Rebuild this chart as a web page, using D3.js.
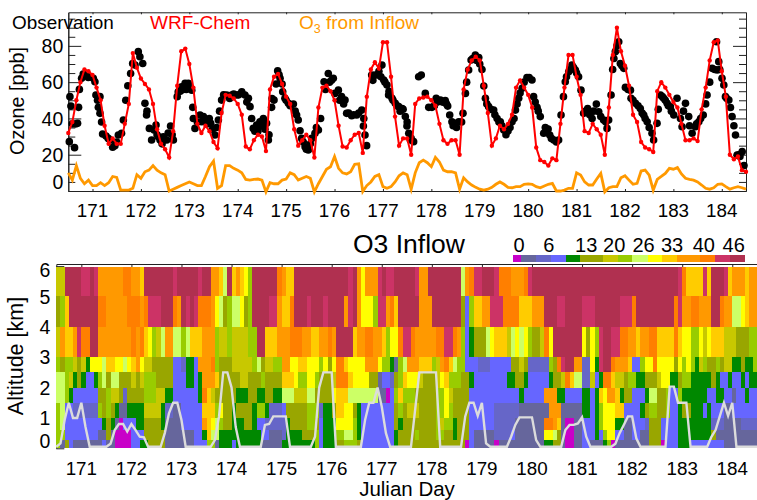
<!DOCTYPE html>
<html>
<head>
<meta charset="utf-8">
<script src="https://cdn.jsdelivr.net/npm/d3@7"></script>
<style>
body { margin: 0; background: #fff; }
text { font-family: "Liberation Sans", Arial, sans-serif; fill: #000; }
</style>
</head>
<body>
<div id="my_dataviz"></div>
<script>
// --- axis labels ---
const dayTicks = [171, 172, 173, 174, 175, 176, 177, 178, 179, 180, 181, 182, 183, 184];
const ozoneTicks = [0, 20, 40, 60, 80];
const ozoneMinor = [5, 10, 15, 25, 30, 35, 45, 50, 55, 65, 70, 75, 85, 90, 95];
const altTicks = [0, 1, 2, 3, 4, 5, 6];

// --- 2-hourly series, first sample at day 170.5 ---
const wrfChem = [32, 38, 50, 60, 67, 66, 64, 57, 50, 36, 26, 29,
	26, 26, 37, 48, 76, 68, 62, 59, 56, 48, 34, 26,
	23, 18.5, 33, 58, 77, 78.5, 70, 57, 37, 32, 36, 33,
	27, 23.5, 43, 53, 52.5, 51, 48, 42, 24.5, 23, 28, 31,
	30, 22, 56, 63, 64.5, 59, 52, 48, 34, 25, 28, 31,
	28, 18.5, 46, 57, 58, 55, 50, 36, 24.5, 24, 28, 31,
	32, 21, 52, 67, 71, 67.5, 82, 82, 63, 41, 25, 29,
	29, 20, 48, 51, 51.5, 52, 50, 47, 37, 28, 26, 28,
	28, 20, 56, 67, 72, 74, 72, 58, 43, 25, 29, 36,
	34, 37, 42, 57, 61, 57, 53, 46, 24, 17, 16, 14,
	18, 17, 37, 57, 75, 75, 63, 53, 33, 32, 37, 34,
	31, 20, 46, 75, 90, 77, 69, 58, 42, 38, 27, 24,
	23, 21.5, 55, 60, 57, 53, 49, 46, 37, 28, 28, 29,
	27.5, 45, 57, 72, 82, 83, 66, 52, 20, 17.5, 19, 11.5, 10.6];

const inflowO3 = [10, 6, 14, 7, 4, 6, 3, 3, 4.6, 3, 4.6, 8,
	7.5, .5, .5, .5, 1.5, 9, 7, 10.6, 11.5, 14, 11.5, 10,
	9, 0, 1, 2, 3, 4, 5, 4, 3, 3, 8, 13.4,
	16.5, 1.5, 3, 14, 14, 12.5, 11.5, 10, 6.4, 6, 6.4, 6.6,
	6, -.5, 4.6, 4, 4, 6, 6.6, 10, 9, 6, 7, 8,
	7, -.5, 4, 8, 12, 13.4, 19, 12.5, 10, 9.4, 10.6, 14.7,
	15, -.3, 3, 5, 8, 9, 2.4, 1.5, 2.4, 5, 8.4, 10,
	9, 1, 10, 15.6, 17, 15.6, 13.4, 18.5, 16, 11.5, 10.6, 10.6,
	10, 1, 7.3, 5, 3.3, 2, 1, .5, 1, 2, 3.7, 5,
	3.7, 2, 1.8, 2.4, 2.4, 3.7, 3.9, 3.7, 2.4, 1.8, 2.8, 3.7,
	4.2, 0, 0, .5, 1.5, 1.5, 10, 8.8, 5, 3.3, 3.3, 6.6,
	9.7, -.5, 1.8, 2.4, 2.4, 7.3, 8.4, 6, 3.7, 4.2, 11, 11.5,
	8.8, .5, 6.4, 8, 9.7, 12.5, 12, 12.9, 9.4, 7, 6.4, 6,
	5, 3.3, 1.5, 1, 1.8, 3.7, 3.9, 2.4, 1, 1.8, 2.4, 1.8, 1];

const blHeight = [.05, .16, .93, 1.5, 1, 1, 1.5, .7, .05, .05, .05, .05,
	.05, .15, .6, .8, .8, .55, .8, .6, .38, .36, .05, .05,
	.05, .05, .5, 1.15, 1.5, 1.5, .93, .05, .05, .05, .05, .05,
	.05, .05, .27, 1.05, 2.5, 2.5, 2, .7, .05, .05, .05, .05,
	.05, .05, .77, .8, 1.05, 1.05, 1.05, 1.05, .05, .05, .05, .05,
	.05, .05, .38, 2, 2.5, 2.5, 2.5, .05, .05, .05, .05, .05,
	.05, .05, .93, 1.5, 1.5, 2, 1.37, .5, .05, .05, .05, .05,
	.05, .05, 1.27, 2.5, 2.5, 2.5, 2.5, 2.5, .05, .05, .05, .05,
	.05, .05, 1.05, 1.5, 1.5, 1.07, 1.5, .16, .05, .05, .05, .05,
	.05, .38, .77, 1.02, 1.02, 1.02, 1.02, .27, .05, .05, .05, .05,
	.05, .05, .6, .77, .77, .82, 1.02, .38, .05, .05, .05, .05,
	.05, .05, .15, .5, .77, 1.05, 1.05, .33, .05, .05, .05, .05,
	.05, .05, .05, 2.03, 2.03, 1.5, 1.5, 1.5, .05, .05, .05, .05,
	.05, .38, .6, 1.05, 1.5, 1.07, 1.5, .05, .05, .05, .05, .05, .05];

// --- observations: hours since day 170.5, ppb ---
const obsHour = [.8, 1.3, .5, 3.1, 3.5, 4.6, 5.1, 5.5, 6.6, 7.4, 8.8, 9.9, 11.1, 12.4, 13.2, 13.7, 15.7, 14.9, 15.7, 17,
	18.7, 20.7, 22, 23.1, 24.8, 26.4, 27.3, 30.9, 31.9, 33.1, 34.7, 35.5, 36.9, 38, 38.8, 40.2, 41.3, 42.5, 43.5, 44.6,
	45.5, 47.1, 48.8, 50.7, 52.1, 54.5, 56.2, 57.9, 59.5, 61.2, 61.7, 62.8, 65.3, 66.1, 67.8, 69.9, 70.6, 72.7, 74.4, 76,
	78.5, 81, 83.5, 86, 87.6, 89.3, 90.1, 90.9, 91.7, 93.4, 95, 96.7, 98.3, 99.2, 100.8, 102, 103.8, 105, 106.3, 107.4,
	109.1, 111.6, 113.2, 114, 114.9, 115.7, 117.4, 119, 120.7, 122.3, 124, 125.1, 126.8, 128.9, 131.4, 132.2, 133.9, 135.5, 137.2, 138,
	140.5, 143, 145.5, 146.3, 147.1, 147.9, 150.4, 152.1, 153.7, 155.5, 156.4, 158, 158.8, 160.5, 162.1, 163.8, 165.5, 167.1, 167.9, 168.8,
	169.6, 171.2, 173.7, 175, 177, 178.7, 180.3, 182.4, 184.5, 186.9, 188.1, 189.1, 190.2, 191.9, 193.6, 195.7, 196.9, 198.5, 199.7, 201.8,
	203.5, 205.1, 206, 206.8, 208.4, 210.9, 212.6, 214.2, 215.9, 218, 220, 221.7, 223.3, 225, 227.4, 229.9, 230.7, 232.4, 234, 235.7,
	237.9, 238.7, 240.7, 243.1, 244.3, 246.4, 248.1, 249.7, 251.4, 253, 254.2, 255.5, 257.5, 259.7, 261.8, 263, 265.4, 267.9, 267.1, 269.1,
	269.9, 271.2, 272.9, 273.7, 275.4, 276.2, 278.7, 279, 281.2, 283.6, 285.3, 287, 289.4, 290.2, 291.9, 293.6, 295.2, 296.9, 298.5, 300.2,
	301.8, 303.5, 304.3, 306, 307.6, 309.3, 310.9, 312.6, 314.8, 316.7, 319.2, 321.7, 322.5, 321.4, 324.1, 325, 325.8, 327.5, 329.1, 330.8,
	331.6, 334.1, 335,
	2, 14.5, 16.5, 19.8, 24, 28.5, 29.5, 39, 44, 46.5, 49.5, 51.5, 54, 55.5, 57, 58.5, 60, 62, 64, 67, 69, 71.5, 73.5, 75, 77, 80, 82, 84.5, 88.5,
	92.5, 94, 96, 97.5, 99.5, 101, 103, 104.5, 106, 108, 110, 112.5, 116.5, 118, 120, 123, 127.5, 129.5, 130.5, 134.5, 136.5, 139, 141.5, 144, 146.5,
	151, 154, 155, 157, 159, 161, 163, 164.5, 166, 168, 170, 181.5, 183, 185.5, 187.5, 190.8, 192.5, 195, 197.5, 200.5, 202.5, 204, 207.5, 209.5, 211.5,
	213.5, 215, 217, 219, 221, 222.5, 224, 226, 228.5, 231.5, 233, 236.5, 239.5, 242, 245.5, 247, 249, 250.5, 252, 256.5, 258.5, 260.5, 264, 266.5,
	270.5, 272, 274.5, 277.5, 280, 282.5, 284.5, 286, 288, 292.5, 294.5, 296, 297.5, 299, 305, 308, 311.5, 313.5, 316, 318, 320.5, 323, 326.5, 328.3, 330, 332.5, 333];
const obsPpb = [52, 46.8, 27.2, 23.9, 36.9, 37.3, 46.1, 56, 62.1, 64.5, 63.9, 62.6, 63, 62.1, 60.2, 52.9, 52, 46.1, 42.8, 31.4,
	30.3, 28.1, 24.1, 25, 30.9, 31.8, 39.1, 64.8, 70.3, 69.4, 76.8, 74, 70.3, 48.3, 41.9, 34.5, 28.1, 33.6, 36.4, 29.9,
	28.1, 29.9, 28.1, 35.8, 28.1, 54.7, 57.5, 59.3, 59.3, 55.6, 46.1, 34.5, 41.9, 38.2, 39.1, 40, 37.3, 30.9, 39.1, 50.1,
	52.9, 52.9, 52.9, 54.7, 52.9, 51.1, 46.5, 40, 34.5, 36.4, 38.2, 40, 37.3, 28.1, 46.1, 50.1, 66.3, 62.1, 54.7, 51.1,
	48.3, 47.9, 41.9, 39.1, 33.2, 29, 24.4, 22.6, 29, 31.8, 33.6, 40, 60.2, 64.8, 62.1, 53.8, 55.6, 52, 50.1, 42.8,
	41.5, 41.9, 44.6, 35.8, 30.9, 25, 63.9, 63.9, 63.9, 69.4, 61.2, 58.4, 52.9, 51.1, 48.3, 46.5, 45.5, 41, 35.8, 31.8,
	28.1, 27.2, 63, 63.9, 53.8, 46.1, 46.1, 51.1, 50.1, 49.8, 46.8, 41.9, 38.2, 37.3, 38.2, 42.8, 53.8, 66.7, 72.2, 74.9,
	73.6, 67, 57.9, 51.1, 46.5, 44.6, 40, 38.2, 33.6, 33.1, 38.2, 44.6, 51.1, 56.6, 62.6, 61.2, 52, 46.1, 41, 31.8,
	34.2, 30.9, 28.1, 28.1, 41.9, 60.2, 65.7, 69.4, 66.7, 63, 55.6, 42.8, 45.5, 40, 47.9, 43.7, 39.1, 39.1, 34.5, 52.9,
	67, 76.8, 82.3, 70.3, 67.6, 57.1, 55.6, 51.1, 48.3, 45.5, 41.9, 38.2, 31.8, 28.1, 37.3, 52.9, 51.1, 48.3, 46.5, 41.9,
	51.1, 40, 35.4, 48.3, 41, 31.8, 35.4, 38.2, 41.9, 52.9, 67.6, 66.7, 71.3, 82.3, 62.1, 58.4, 52, 50.1, 41, 30.9,
	19.8, 21.7, 14,
	37, 50, 38, 29, 27, 50, 58, 44, 31, 26, 32, 31, 52, 55, 56, 56, 56.5, 40, 38, 41, 37, 34, 35, 44, 53, 51, 53.5, 53, 49,
	33, 33, 36, 34, 31, 51, 59, 64, 59, 50, 47, 44, 27, 23, 26, 35, 56, 60, 61, 50, 48, 43, 42, 43, 40,
	61, 66, 63, 60, 55, 50, 47, 44, 45, 38, 29, 47, 49, 49, 48, 36, 35, 38, 60, 73, 72, 70, 48, 45, 42,
	38, 36, 31, 35, 40, 48, 54, 60, 62.5, 49, 44, 35, 29, 27, 52, 63, 67, 68, 65, 44, 42, 44, 41, 38,
	73, 80, 69, 56, 50, 47, 43, 40, 35, 45, 52, 50, 47, 44, 44, 36, 37, 40, 48, 60, 67, 67, 51, 46, 36, 20, 19];

// --- colour bar ---
const binEdges = [-1.3, .43, 3.64, 6.86, 10.07, 13.07, 18, 21.2, 24.2, 27.6, 30.6, 33.9, 38.8, 42, 45.2, 48.4];
const binColors = ['#c800c8', '#66669c', '#6666c8', '#6666ff', '#008800', '#99a600', '#c8c800', '#99cc00',
	'#ccff66', '#ffff00', '#ffcc00', '#ff9900', '#ff7f00', '#cc3366', '#b03050'];
const barLabels = ['0', '6', '13', '20', '26', '33', '40', '46'];
const barLabelAt = [0, 6.4, 14.4, 20.4, 26.7, 32.8, 39.6, 46];

// ppb of each colour class, used in the layers below
const M = 0, S = 2, B = 5, P = 8, G = 12, O = 15, Y = 20, L = 23, C = 26, W = 29, A = 32, R = 36, N = 40, K = 44, D = 47;

// --- O3 inflow curtain: altitude edges [km], and per layer [first 2h step, ppb] runs ---
const layerEdges = [0, .27, .6, 1, 1.5, 2, 2.5, 3, 4, 5, 5.96];
const layer0 = [[0,L],[1,S],[2,O],[3,P],[4,S],[11,P],[12,S],[14,M],[18,P],[20,G],[22,O],[26,S],[33,P],[36,L],[38,S],[39,G],[42,P],[43,G],[49,S],[54,G],[62,L],[63,P],[64,G],[67,O],[69,L],[72,O],[73,P],
	[77,P],[81,G],[82,O],[98,M],[99,P],[100,S],[105,M],[106,S],[117,G],[119,O],[121,S],[122,M],[124,S],[126,P],[128,S],[131,G],[132,L],[133,M],[134,S],[142,O],[145,M],[146,P],[149,G],[152,P],[160,S]];
const layer1 = [[0,L],[2,P],[10,S],[12,O],[13,S],[14,M],[18,P],[21,O],[26,S],[33,P],[35,G],[36,A],[37,C],[39,G],[49,P],[51,S],[54,B],[55,G],[59,O],[62,L],[63,P],[64,G],[67,L],[69,C],[71,L],[72,G],[73,P],
	[77,P],[81,G],[82,O],[86,L],[87,O],[91,L],[93,O],[95,G],[96,O],[99,P],[100,S],[105,B],[109,P],[110,S],[117,W],[119,C],[120,O],[121,S],[122,M],[124,S],[126,P],[129,G],[130,P],[131,L],[132,W],[134,P],[136,S],[138,P],[140,S],[142,O],[145,P],[149,G],[157,O],[158,S]];
const layer2 = [[0,L],[1,C],[2,P],[10,P],[11,G],[12,O],[13,G],[14,S],[15,M],[16,P],[19,G],[21,O],[25,G],[26,S],[30,P],[35,R],[36,A],[37,W],[38,C],[39,L],[40,O],[42,G],[45,O],[47,G],[48,P],[50,B],[55,G],[56,O],[60,L],[62,O],[63,P],[64,G],[67,W],[71,L],[72,G],[73,P],
	[77,P],[81,O],[82,G],[83,O],[91,L],[92,Y],[93,L],[95,G],[96,O],[99,P],[105,B],[110,S],[117,N],[119,R],[120,A],[121,S],[122,M],[124,S],[126,P],[129,G],[130,L],[131,W],[134,G],[136,S],[138,P],[141,B],[142,O],[145,P],[149,G],[157,B],[160,S],[164,B]];
const layer3 = [[0,L],[1,C],[2,P],[4,B],[10,L],[11,O],[12,L],[13,O],[14,G],[15,S],[17,G],[21,Y],[25,G],[26,B],[28,S],[30,P],[35,A],[38,L],[39,W],[40,O],[42,G],[43,O],[47,G],[48,L],[50,G],[51,B],[54,P],[55,O],[60,L],[63,B],[64,G],[66,O],[67,A],[69,W],[71,O],[72,G],[73,P],
	[77,P],[81,O],[82,L],[83,O],[84,Y],[87,O],[91,L],[93,W],[94,L],[95,O],[99,P],[105,B],[111,S],[118,R],[121,S],[126,G],[128,P],[129,G],[130,L],[131,W],[134,A],[136,P],[140,G],[141,O],[142,L],[144,O],[146,L],[147,P],[149,G],[150,O],[152,G],[155,P],[156,G],[157,P],[160,S],[162,P]];
const layer4 = [[0,C],[2,L],[3,G],[4,P],[10,O],[12,L],[13,Y],[15,O],[16,B],[17,O],[21,L],[24,Y],[26,G],[28,P],[34,G],[35,N],[36,A],[37,Y],[38,O],[43,G],[46,O],[48,G],[50,O],[52,G],[54,C],[57,Y],[60,C],[62,O],[66,W],[67,A],[70,C],
	[77,S],[79,M],[80,P],[81,L],[82,A],[83,L],[86,O],[91,L],[93,W],[94,Y],[95,O],[99,P],[111,G],[112,P],[117,R],[120,G],[122,P],[126,G],[128,P],[129,G],[130,A],[131,W],[132,R],[134,A],[135,G],[136,O],[138,P],[141,G],[142,C],[144,O],[146,L],[147,P],[149,L],[150,G],[156,P],[158,G],[160,P],[162,S],[163,P],[165,G],[166,P]];
const layer5 = [[0,C],[2,L],[3,Y],[4,G],[5,O],[6,G],[7,P],[9,G],[10,L],[11,C],[12,O],[13,C],[15,O],[18,Y],[19,O],[20,Y],[21,L],[24,O],[28,P],[31,G],[33,P],[34,G],[35,R],[38,A],[39,O],[44,Y],[46,O],[49,L],[50,O],[54,A],[57,W],[58,L],[60,W],[62,L],[63,O],[66,Y],[67,N],[70,A],[71,W],[75,O],
	[77,S],[78,P],[80,B],[81,O],[82,L],[83,A],[84,W],[87,Y],[88,O],[91,Y],[92,W],[93,A],[94,L],[97,O],[99,G],[100,P],[108,G],[110,O],[112,G],[113,P],[118,G],[119,O],[121,Y],[122,N],[123,A],[124,C],[126,B],[128,Y],[129,P],[130,G],[131,N],[133,A],[134,Y],[136,O],[137,L],[139,G],[141,O],[144,Y],[145,W],[147,G],[149,O],[150,L],[152,G],[157,O],[158,G],[159,P],[161,G],[162,P],[164,G],[165,P],[166,G]];
const layer6 = [[0,L],[1,O],[2,L],[4,Y],[5,O],[6,Y],[7,G],[8,W],[11,C],[12,A],[14,W],[16,C],[17,W],[18,A],[19,R],[20,W],[21,Y],[23,O],[28,P],[30,B],[31,G],[33,P],[34,R],[37,N],[38,L],[39,O],[42,Y],[47,L],[48,C],[49,O],[50,Y],[52,L],[54,R],[56,W],[58,A],[60,W],[63,L],[64,W],[65,O],[66,W],[67,N],[69,A],[70,W],[74,R],
	[77,W],[78,L],[80,G],[81,S],[82,L],[83,C],[84,R],[87,A],[90,L],[91,Y],[92,R],[93,N],[94,A],[95,C],[96,L],[98,P],[101,B],[104,P],[109,O],[111,Y],[112,O],[113,B],[118,L],[119,O],[120,N],[121,K],[122,D],[124,R],[126,B],[128,W],[129,G],[130,K],[131,D],[133,N],[134,R],[137,A],[138,P],[140,L],[141,W],[143,N],[144,W],[148,O],[149,W],[150,L],[151,W],[152,L],[153,G],[154,Y],[155,L],[156,O],[158,L],[159,O],[160,Y],[162,G],[164,O],[165,G],[167,L]];
const layer7 = [[0,Y],[1,R],[2,A],[4,R],[5,K],[6,N],[8,D],[10,R],[18,N],[19,R],[20,N],[21,A],[22,W],[23,L],[24,Y],[25,C],[26,R],[28,C],[30,L],[31,C],[32,A],[35,R],[38,L],[39,Y],[41,L],[42,Y],[46,L],[48,D],[50,A],[53,R],[56,N],[59,R],[61,A],[63,R],[65,N],[66,R],[67,D],[71,A],[72,R],[74,N],[76,R],
	[78,A],[79,L],[80,W],[82,N],[83,K],[85,N],[86,R],[91,N],[93,K],[95,N],[96,R],[97,L],[98,P],[99,G],[100,O],[103,C],[104,W],[105,A],[108,Y],[109,C],[110,W],[111,C],[112,W],[113,L],[114,O],[116,Y],[117,N],[118,W],[119,D],[126,W],[127,O],[128,W],[129,L],[130,K],[131,D],[133,K],[135,N],[137,R],[139,A],[140,R],[142,N],[144,A],[148,N],[149,A],[150,W],[152,L],[154,W],[155,Y],[156,W],[157,A],[160,Y],[163,O],[166,L]];
const layer8 = [[0,O],[1,L],[2,A],[3,D],[10,N],[12,R],[17,N],[20,R],[21,N],[22,K],[25,D],[28,N],[29,R],[30,D],[31,K],[32,D],[33,K],[34,N],[37,R],[38,W],[39,C],[40,O],[41,L],[42,C],[44,W],[45,O],[46,L],[47,D],[51,K],[53,R],[54,A],[56,N],[57,D],[60,K],[61,D],[64,K],[65,D],[69,R],[70,K],[71,D],[72,R],[73,W],[76,L],
	[77,K],[79,R],[80,N],[81,A],[82,D],[87,R],[90,D],[97,O],[98,P],[99,L],[100,A],[102,R],[104,K],[107,N],[111,A],[114,R],[117,D],[120,K],[122,D],[126,K],[129,D],[135,K],[138,N],[139,D],[148,N],[149,K],[150,R],[152,N],[154,R],[157,D],[159,N],[160,R],[162,C],[164,W],[165,A],[166,R]];
const layer9 = [[0,Y],[2,D],[6,K],[8,D],[9,K],[10,R],[16,N],[18,R],[20,A],[21,D],[28,K],[29,D],[34,K],[35,D],[37,R],[39,A],[40,C],[41,D],[42,A],[43,R],[44,A],[45,W],[46,L],[47,D],[53,N],[54,R],[55,A],[57,D],[70,K],[71,D],[72,R],[73,W],[74,R],
	[77,K],[78,D],[79,K],[81,D],[86,K],[87,R],[89,D],[97,C],[98,R],[99,N],[100,K],[102,D],[105,K],[106,N],[109,R],[112,N],[113,K],[114,D],[149,K],[150,N],[151,A],[155,K],[156,A],[157,D],[160,K],[161,A],[162,R],[165,A],[166,R]];
const layers = [layer0, layer1, layer2, layer3, layer4, layer5, layer6, layer7, layer8, layer9];
const lastStep = 168;

const dayOfStep = i => 170.5 + i / 12;

const svg = d3.select("#my_dataviz").append("svg").attr("width", 757).attr("height", 500);

//-------- top panel ---------
const xTop = d3.scaleLinear().domain([170.5, 184.5]).range([68.3, 746]);
const yTop = d3.scaleLinear().domain([0, 98.5]).range([191, 12.3]);
const upper = svg.append("g");

function styleAxis(g) {
	g.selectAll("path, line").attr("stroke", "#222").attr("stroke-width", 1);
	g.selectAll("text").style("font-size", "19.5px");
}

upper.append("g").attr("transform", "translate(68.3,0)")
	.call(d3.axisRight(yTop).tickValues(ozoneMinor).tickSize(7).tickSizeOuter(0).tickFormat(""))
	.call(styleAxis);
upper.append("g").attr("transform", "translate(746,0)")
	.call(d3.axisLeft(yTop).tickValues(ozoneMinor).tickSize(7).tickSizeOuter(0).tickFormat(""))
	.call(styleAxis);
upper.append("g").attr("transform", "translate(746,0)")
	.call(d3.axisLeft(yTop).tickValues(ozoneTicks).tickSize(13).tickSizeOuter(0).tickFormat(""))
	.call(styleAxis);
const ozAxis = upper.append("g").attr("transform", "translate(68.3,0)")
	.call(d3.axisRight(yTop).tickValues(ozoneTicks).tickSize(13).tickSizeOuter(0))
	.call(styleAxis);
ozAxis.selectAll("text").attr("x", -5).attr("text-anchor", "end")
	.attr("dy", d => d === 0 ? "-0.12em" : "0.34em");
upper.append("g").attr("transform", "translate(0,12.3)")
	.call(d3.axisBottom(xTop).tickValues(dayTicks).tickSize(2).tickSizeOuter(0).tickFormat(""))
	.call(styleAxis);
upper.append("g").attr("transform", "translate(0,191)")
	.call(d3.axisTop(xTop).tickValues(dayTicks).tickSize(2).tickSizeOuter(0).tickFormat(""))
	.call(styleAxis);
dayTicks.forEach(d => {
	upper.append("text").attr("x", xTop(d)).attr("y", 217).attr("text-anchor", "middle").style("font-size", "18.8px").text(d);
});

// observations
upper.append("g").selectAll("circle").data(obsHour).join("circle")
	.attr("cx", (d, i) => xTop(170.5 + d / 24))
	.attr("cy", (d, i) => yTop(obsPpb[i]))
	.attr("r", 3.8)
	.attr("fill", "#000");

// model
const lineTop = d3.line().x((d, i) => xTop(dayOfStep(i))).y(d => yTop(d));
upper.append("path").datum(wrfChem).attr("d", lineTop).attr("fill", "none").attr("stroke", "#ff0000").attr("stroke-width", 2);
upper.append("g").selectAll("circle").data(wrfChem).join("circle")
	.attr("cx", (d, i) => xTop(dayOfStep(i)))
	.attr("cy", d => yTop(d))
	.attr("r", 2.2)
	.attr("fill", "#ff0000");
upper.append("path").datum(inflowO3).attr("d", lineTop).attr("fill", "none").attr("stroke", "#ff9900").attr("stroke-width", 2.8);

upper.append("text").attr("x", 12).attr("y", 29).style("font-size", "18.9px").text("Observation");
upper.append("text").attr("x", 150).attr("y", 29).style("font-size", "19px").style("fill", "#ff0000").text("WRF-Chem");
const o3lab = upper.append("text").attr("x", 299).attr("y", 29).style("font-size", "19px").style("fill", "#ff9900");
o3lab.append("tspan").text("O");
o3lab.append("tspan").attr("dy", 4).style("font-size", "12.5px").text("3");
o3lab.append("tspan").attr("dy", -4).text(" from Inflow");
upper.append("text").attr("transform", "translate(24,101) rotate(-90)").attr("text-anchor", "middle").style("font-size", "19.8px").text("Ozone [ppb]");

//-------- bottom panel ---------
const xBot = d3.scaleLinear().domain([170.5, 184.5]).range([56.3, 757.3]);
const yBot = d3.scaleLinear().domain([0, 6.07]).range([448.3, 264]);
const bot = svg.append("g");

const altAxis = bot.append("g").attr("transform", "translate(56.3,0)")
	.call(d3.axisRight(yBot).tickValues(altTicks).tickSize(8).tickSizeOuter(0).tickFormat(d3.format("d")))
	.call(styleAxis);
altAxis.selectAll("text").attr("x", -6).attr("text-anchor", "end")
	.attr("dy", d => d === 0 ? "-0.05em" : d === 6 ? "0.55em" : "0.34em");
bot.append("g").attr("transform", "translate(0,264)")
	.call(d3.axisBottom(xBot).tickValues(dayTicks).tickSize(3).tickSizeOuter(0).tickFormat(""))
	.call(styleAxis);

const binColor = d3.scaleThreshold().domain(binEdges.slice(1, -1)).range(binColors);

layers.forEach((layer, k) => {
	bot.append("g").selectAll("rect").data(layer).join("rect")
		.attr("x", d => xBot(dayOfStep(d[0])))
		.attr("width", (d, i) => xBot(dayOfStep(i + 1 < layer.length ? layer[i + 1][0] : lastStep)) - xBot(dayOfStep(d[0])))
		.attr("y", yBot(layerEdges[k + 1]))
		.attr("height", yBot(layerEdges[k]) - yBot(layerEdges[k + 1]))
		.attr("fill", d => binColor(d[1]))
		.attr("shape-rendering", "crispEdges");
});

const lineBot = d3.line().x((d, i) => xBot(dayOfStep(i))).y(d => yBot(d));
bot.append("path").datum(blHeight).attr("d", lineBot).attr("fill", "none").attr("stroke", "#dcdcdc").attr("stroke-width", 2.4);

dayTicks.forEach(d => {
	bot.append("text").attr("x", xBot(d)).attr("y", 475).attr("text-anchor", "middle").style("font-size", "18.8px").text(d);
});
bot.append("text").attr("transform", "translate(23,356) rotate(-90)").attr("text-anchor", "middle").style("font-size", "21.5px").text("Altitude [km]");
bot.append("text").attr("x", 407).attr("y", 496).attr("text-anchor", "middle").style("font-size", "20.5px").text("Julian Day");
bot.append("text").attr("x", 353).attr("y", 253).style("font-size", "26.5px").text("O3 Inflow");

// colour bar
const xBar = d3.scaleLinear().domain([0, 46]).range([519, 733.7]);
bot.append("g").selectAll("rect").data(binColors).join("rect")
	.attr("x", (d, i) => xBar(binEdges[i]))
	.attr("width", (d, i) => xBar(binEdges[i + 1]) - xBar(binEdges[i]))
	.attr("y", 255).attr("height", 7)
	.attr("fill", d => d)
	.attr("shape-rendering", "crispEdges");
bot.append("g").selectAll("text").data(barLabels).join("text")
	.attr("x", (d, i) => xBar(barLabelAt[i]))
	.attr("y", 251.5)
	.attr("text-anchor", "middle")
	.style("font-size", "20px")
	.text(d => d);
</script>
</body>
</html>
